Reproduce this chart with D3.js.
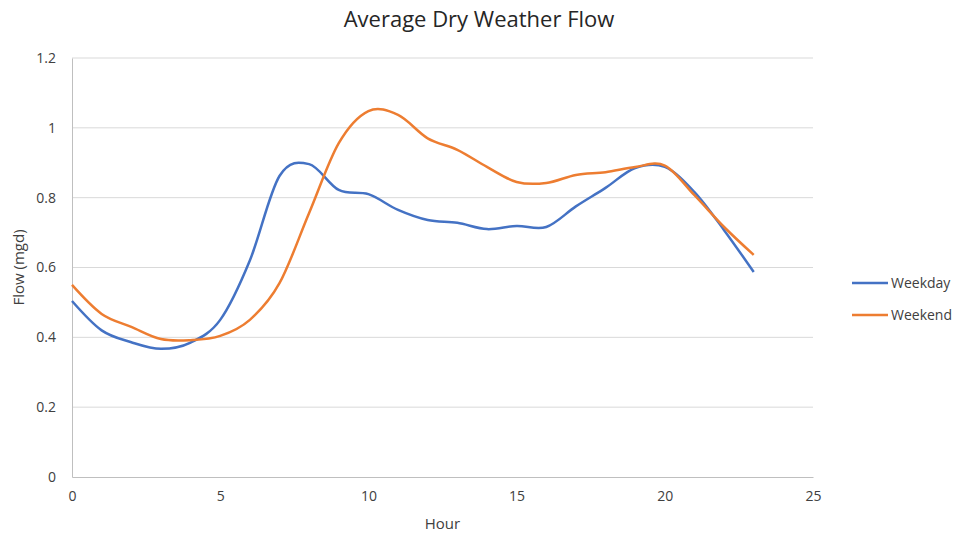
<!DOCTYPE html>
<html>
<head>
<meta charset="utf-8">
<script src="https://cdn.jsdelivr.net/npm/d3@7"></script>
<style>
  body { margin: 0; background: #fff; }
  svg { font-family: "Open Sans", "Liberation Sans", sans-serif; }
</style>
</head>
<body>
<div id="chart"></div>
<script>
// data
const hours = [0, 1, 2, 3, 4, 5, 6, 7, 8, 9, 10, 11, 12, 13, 14, 15, 16, 17, 18, 19, 20, 21, 22, 23];
const weekday = [0.504, 0.42, 0.386, 0.367, 0.385, 0.45, 0.62, 0.862, 0.896, 0.822, 0.81, 0.765, 0.736, 0.728, 0.71, 0.719, 0.716, 0.775, 0.828, 0.885, 0.888, 0.816, 0.707, 0.587];
const weekend = [0.55, 0.467, 0.43, 0.395, 0.392, 0.404, 0.45, 0.555, 0.756, 0.956, 1.048, 1.037, 0.97, 0.937, 0.888, 0.845, 0.842, 0.865, 0.873, 0.888, 0.892, 0.807, 0.716, 0.636];
const seriesNames = ["Weekday", "Weekend"];
const seriesColors = ["#4472C4", "#ED7D31"];
const xTicks = [0, 5, 10, 15, 20, 25];
const yTicks = [0, 0.2, 0.4, 0.6, 0.8, 1, 1.2];

const width = 957, height = 534;
const margin = { top: 58, right: 144, bottom: 57, left: 72 };
const boundedWidth = width - margin.left - margin.right;
const boundedHeight = height - margin.top - margin.bottom;

const svg = d3.select("#chart").append("svg")
  .attr("width", width)
  .attr("height", height);

const bounds = svg.append("g")
  .attr("transform", `translate(${margin.left},${margin.top})`);

const xScale = d3.scaleLinear().domain([0, 25]).range([0, boundedWidth]);
const yScale = d3.scaleLinear().domain([0, 1.2]).range([boundedHeight, 0]);

// gridlines
bounds.append("g")
  .selectAll("line")
  .data(yTicks.slice(1))
  .join("line")
  .attr("x1", 0)
  .attr("x2", boundedWidth)
  .attr("y1", d => yScale(d))
  .attr("y2", d => yScale(d))
  .attr("stroke", "#d9d9d9")
  .attr("stroke-width", 1);

// axes
const xAxis = bounds.append("g")
  .attr("transform", `translate(0,${boundedHeight})`)
  .call(d3.axisBottom(xScale).tickValues(xTicks).tickSize(0).tickPadding(14));
const yAxis = bounds.append("g")
  .call(d3.axisLeft(yScale).tickValues(yTicks).tickSize(0).tickPadding(16).tickFormat(d3.format("")));

[xAxis, yAxis].forEach(ax => {
  ax.select(".domain").attr("stroke", "#bfbfbf");
  ax.selectAll("text")
    .attr("fill", "#404040")
    .attr("font-size", "14px")
    .style("font-family", "'Open Sans', sans-serif");
});

// lines
const lineGen = d3.line()
  .x((d, i) => xScale(hours[i]))
  .y(d => yScale(d))
  .curve(d3.curveCardinal.tension(0));

[weekday, weekend].forEach((values, i) => {
  bounds.append("path")
    .datum(values)
    .attr("fill", "none")
    .attr("stroke", seriesColors[i])
    .attr("stroke-width", 2.5)
    .attr("stroke-linejoin", "round")
    .attr("d", lineGen);
});

// title
svg.append("text")
  .attr("x", 479)
  .attr("y", 27)
  .attr("text-anchor", "middle")
  .attr("font-size", "22px")
  .attr("fill", "#262626")
  .text("Average Dry Weather Flow");

// axis titles
svg.append("text")
  .attr("x", margin.left + xScale(12.5))
  .attr("y", 529)
  .attr("text-anchor", "middle")
  .attr("font-size", "15px")
  .attr("fill", "#404040")
  .text("Hour");

svg.append("text")
  .attr("transform", `translate(24,${margin.top + boundedHeight / 2}) rotate(-90)`)
  .attr("text-anchor", "middle")
  .attr("font-size", "15px")
  .attr("fill", "#404040")
  .text("Flow (mgd)");

// legend
const legend = svg.append("g").attr("transform", "translate(852,283)");
seriesNames.forEach((name, i) => {
  const g = legend.append("g").attr("transform", `translate(0,${i * 32})`);
  g.append("line")
    .attr("x1", 0).attr("x2", 36)
    .attr("stroke", seriesColors[i])
    .attr("stroke-width", 2.5);
  g.append("text")
    .attr("x", 39)
    .attr("dy", "0.35em")
    .attr("font-size", "14px")
    .attr("fill", "#404040")
    .text(name);
});
</script>
</body>
</html>
